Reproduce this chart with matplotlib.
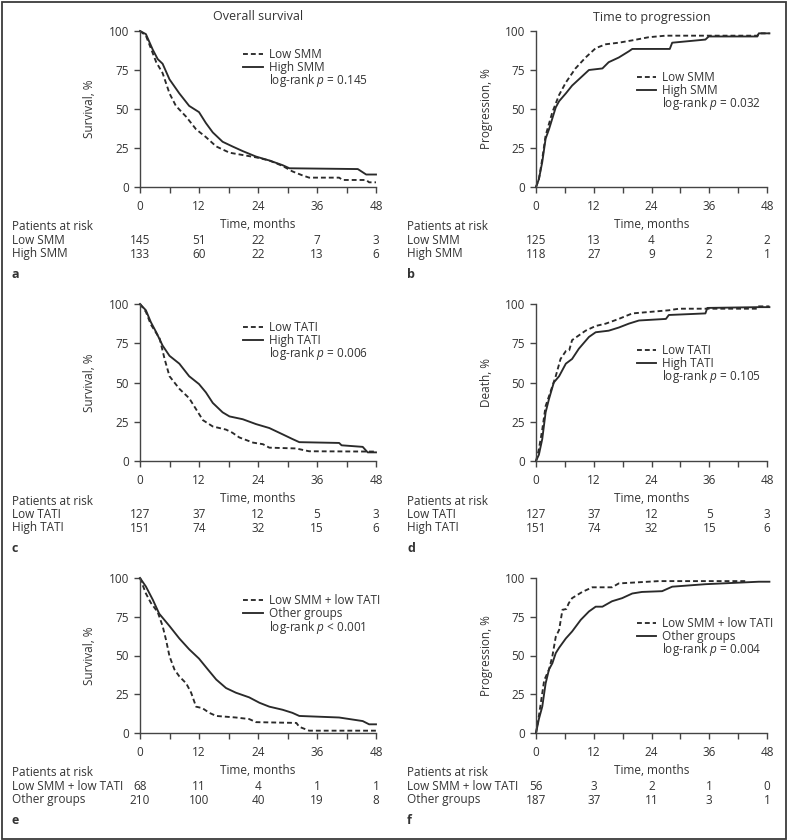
import numpy as np
import matplotlib
matplotlib.use("Agg")
import matplotlib.pyplot as plt
from matplotlib.patches import Rectangle

plt.rcParams['font.family'] = ['Open Sans', 'DejaVu Sans']
plt.rcParams['font.size'] = 8.5
plt.rcParams['mathtext.fontset'] = 'custom'
plt.rcParams['mathtext.it'] = 'Open Sans:italic'
plt.rcParams['mathtext.rm'] = 'Open Sans'

INK = '#333333'

# ---- curve data (months, %) ----
# a: overall survival by SMM
a_low_t = [0, 1.2, 2.2, 3.3, 4.6, 6.0, 7.3, 9.4, 11.4, 13.4, 15.5, 18.2, 20.0, 23.6, 26.3, 29.0, 31.0, 33.0, 34.4, 40.5, 41.2, 46.0, 46.6, 48.0]
a_low_s = [100, 97, 89, 80, 73, 60, 52, 45, 37, 32, 26, 22, 21, 19, 17, 13.5, 10, 7.5, 6, 6, 4.5, 4.5, 3, 3]
a_high_t = [0, 1.2, 2.6, 3.6, 4.6, 6.0, 8.0, 10.0, 12.0, 13.4, 14.8, 16.8, 18.8, 20.9, 23.6, 26.3, 29.0, 30.4, 44.3, 46.0, 48.0]
a_high_s = [100, 98, 88, 82, 79, 69, 60, 52, 48, 41, 35, 29, 26, 23, 19.5, 17, 14, 12, 11.5, 8, 8]

# b: time to progression by SMM
b_low_t = [0, 0.6, 1.3, 2.0, 3.4, 4.8, 6.2, 8.2, 10.3, 12.4, 14.5, 17.2, 20.0, 23.4, 26.9, 46.0, 46.3, 48.5]
b_low_s = [0, 5, 18, 33, 48, 59, 67, 76, 83, 89, 91.5, 92.5, 94, 96, 97, 97, 98.5, 98.5]
b_high_t = [0, 0.6, 1.3, 2.0, 2.7, 3.4, 4.1, 4.8, 6.2, 7.5, 9.6, 11.0, 13.8, 15.1, 17.2, 19.3, 20.0, 27.8, 28.3, 35.2, 35.9, 46.0, 46.3, 48.5]
b_high_s = [0, 5, 16, 31, 37, 44, 51, 55, 60, 65, 71, 75, 76, 80, 83, 87, 88.5, 88.5, 92.5, 94.5, 96.5, 96.5, 98.5, 98.5]

# c: overall survival by TATI
c_low_t = [0, 1.2, 2.2, 4.0, 5.0, 6.0, 8.0, 10.0, 11.4, 12.8, 14.8, 17.5, 18.8, 20.2, 23.0, 25.0, 26.3, 31.7, 34.4, 48.0]
c_low_s = [100, 95, 87, 78, 65, 54, 46, 40, 33, 26, 22, 20, 18, 15, 11.7, 10.7, 8.5, 8, 6.2, 6]
c_high_t = [0, 1.2, 2.2, 3.3, 4.6, 6.0, 8.0, 10.0, 12.0, 13.4, 14.8, 16.8, 18.2, 20.9, 23.6, 26.3, 29.0, 31.0, 32.4, 40.5, 41.0, 45.3, 46.3, 48.0]
c_high_s = [100, 96, 88.5, 82, 73.5, 67, 62, 54, 49, 43.7, 37, 31, 28.4, 26.6, 23.5, 21, 17, 14, 12, 11.5, 10, 9, 5.5, 5.5]

# d: death by TATI
d_low_t = [0, 0.6, 1.3, 2.0, 3.0, 4.1, 5.1, 6.2, 6.9, 7.5, 8.9, 10.3, 12.4, 14.5, 17.2, 20.0, 27.6, 29.7, 46.0, 46.3, 48.5]
d_low_s = [0, 7.5, 20, 35, 44, 54, 65, 70, 70.5, 77, 80, 83, 86, 87.5, 90.5, 94, 96, 97, 97, 98.5, 98.5]
d_high_t = [0, 0.6, 1.3, 2.0, 2.7, 3.7, 4.8, 6.2, 7.5, 8.9, 11.0, 12.4, 15.1, 17.2, 19.3, 21.4, 27.0, 27.6, 35.2, 35.6, 46.3, 48.5]
d_high_s = [0, 4, 14, 31, 39.5, 50, 54, 62, 65, 71.5, 79, 82, 83, 85, 87.5, 89.5, 90.5, 93, 94, 97.5, 98, 98]

# e: overall survival, combined groups
e_low_t = [0, 1.2, 2.2, 3.6, 4.6, 5.3, 6.0, 7.0, 8.0, 9.4, 10.4, 11.4, 12.7, 14.1, 15.5, 19.5, 22.2, 23.6, 31.8, 32.4, 34.4, 48.0]
e_low_s = [100, 90, 84, 78, 69, 60, 49.5, 41, 36.5, 32, 26, 17, 16, 13, 11, 10, 9, 7, 6.5, 4, 1.5, 1.5]
e_high_t = [0, 1.2, 2.6, 3.9, 6.0, 8.0, 10.0, 12.0, 13.8, 15.5, 17.5, 19.5, 22.2, 24.3, 26.3, 29.0, 31.0, 32.4, 40.5, 45.3, 46.6, 48.0]
e_high_s = [100, 94.5, 86, 77, 69, 61, 54, 48, 41, 34.5, 29, 26, 23, 19.5, 17, 15, 13, 11, 10, 7.7, 5.6, 5.6]

# f: progression, combined groups
f_low_t = [0, 0.6, 1.7, 2.7, 3.4, 4.1, 4.8, 5.5, 6.3, 6.8, 7.5, 9.6, 11.7, 15.8, 17.2, 25.5, 43.8]
f_low_s = [0, 11, 34, 41, 49.5, 62, 66.5, 79.5, 80, 83.7, 87, 91, 94, 94, 96.5, 98, 98]
f_high_t = [0, 0.6, 1.3, 2.0, 2.7, 3.4, 4.1, 4.8, 6.2, 7.5, 9.3, 11.0, 12.4, 13.8, 15.8, 17.9, 20.0, 22.0, 26.2, 28.3, 35.2, 46.3, 48.5]
f_high_s = [0, 9, 17, 32, 41, 45, 51.5, 55, 61, 65.5, 73, 78.4, 81.5, 81.5, 85, 87, 90, 91, 91.5, 94.4, 96, 97.6, 97.6]

# ---- patients at risk ----
risk_t = [0, 12, 24, 36, 48]
a_risk_low = [145, 51, 22, 7, 3]
a_risk_high = [133, 60, 22, 13, 6]
b_risk_low = [125, 13, 4, 2, 2]
b_risk_high = [118, 27, 9, 2, 1]
c_risk_low = [127, 37, 12, 5, 3]
c_risk_high = [151, 74, 32, 15, 6]
d_risk_low = [127, 37, 12, 5, 3]
d_risk_high = [151, 74, 32, 15, 6]
e_risk_low = [68, 11, 4, 1, 1]
e_risk_high = [210, 100, 40, 19, 8]
f_risk_low = [56, 3, 2, 1, 0]
f_risk_high = [187, 37, 11, 3, 1]

fig = plt.figure(figsize=(7.88, 8.4), dpi=100)

W, H = 788.0, 840.0


def make_axes(x0, x1, ytop, ybot):
    return fig.add_axes([x0 / W, 1 - ybot / H, (x1 - x0) / W, (ybot - ytop) / H])


def panel(ax, lt, ls, ht, hs, names, pval, ylabel, leg_y, r_low, r_high, letter, lab_x):
    ax.plot(lt, ls, color='#2a2a2a', lw=1.35,
            linestyle=(0, (2.6, 1.6)), clip_on=False)
    ax.plot(ht, hs, color='#2a2a2a', lw=1.35, clip_on=False)
    ax.set_xlim(0, 48)
    ax.set_ylim(0, 100)
    for s in ['top', 'right']:
        ax.spines[s].set_visible(False)
    for s in ['left', 'bottom']:
        ax.spines[s].set_color('#444444')
        ax.spines[s].set_linewidth(1.0)
    ax.set_xticks(np.arange(0, 49, 6))
    ax.set_xticklabels([str(v) if v % 12 == 0 else '' for v in range(0, 49, 6)])
    ax.set_yticks([0, 25, 50, 75, 100])
    ax.tick_params(axis='x', length=4, width=1.0, pad=5, colors='#444444', labelcolor=INK)
    ax.tick_params(axis='y', length=4, width=1.0, pad=4, colors='#444444', labelcolor=INK)
    ax.set_ylabel(ylabel, color=INK)
    ax.yaxis.set_label_coords(-0.185, 0.5)
    ax.set_xlabel('Time, months', color=INK, va='top')
    ax.xaxis.set_label_coords(0.5, -0.2)

    # key: dashed / solid samples, then the log-rank line underneath
    pos = ax.get_position()
    row = 13.2 / (pos.height * H)
    base = 4.0 / (pos.height * H)
    ax.plot([0.436, 0.52], [leg_y, leg_y], transform=ax.transAxes, color='#2a2a2a',
            lw=1.35, linestyle=(0, (2.6, 1.6)), clip_on=False)
    ax.plot([0.436, 0.52], [leg_y - row, leg_y - row], transform=ax.transAxes,
            color='#2a2a2a', lw=1.35, clip_on=False)
    lines = [names[0], names[1], 'log-rank $p$ ' + pval]
    for i, s in enumerate(lines):
        ax.text(0.545, leg_y - i * row - base, s, transform=ax.transAxes,
                ha='left', va='baseline', color=INK)

    # patients at risk table
    tr = ax.get_xaxis_transform()
    y_head = pos.y0 - 40 / H
    y_low = pos.y0 - 53 / H
    y_high = pos.y0 - 67 / H
    y_let = pos.y0 - 87 / H
    fig.text(lab_x / W, y_head, 'Patients at risk', va='center', ha='left', color=INK)
    fig.text(lab_x / W, y_low, names[0], va='center', ha='left', color=INK)
    fig.text(lab_x / W, y_high, names[1], va='center', ha='left', color=INK)
    fig.text(lab_x / W, y_let, letter, va='center', ha='left', color=INK,
             fontweight='bold', fontsize=9)
    for t, nl, nh in zip(risk_t, r_low, r_high):
        ax.text(t, (y_low - pos.y0) / pos.height, str(nl), transform=tr,
                ha='center', va='center', color=INK)
        ax.text(t, (y_high - pos.y0) / pos.height, str(nh), transform=tr,
                ha='center', va='center', color=INK)


rows = [(31, 187), (304, 461), (578, 733)]
cols = [(140, 376, 12), (536, 767, 407)]

ax_a = make_axes(cols[0][0], cols[0][1], *rows[0])
ax_b = make_axes(cols[1][0], cols[1][1], *rows[0])
ax_c = make_axes(cols[0][0], cols[0][1], *rows[1])
ax_d = make_axes(cols[1][0], cols[1][1], *rows[1])
ax_e = make_axes(cols[0][0], cols[0][1], *rows[2])
ax_f = make_axes(cols[1][0], cols[1][1], *rows[2])

panel(ax_a, a_low_t, a_low_s, a_high_t, a_high_s, ['Low SMM', 'High SMM'], '= 0.145',
      'Survival, %', 0.853, a_risk_low, a_risk_high, 'a', cols[0][2])
panel(ax_b, b_low_t, b_low_s, b_high_t, b_high_s, ['Low SMM', 'High SMM'], '= 0.032',
      'Progression, %', 0.707, b_risk_low, b_risk_high, 'b', cols[1][2])
panel(ax_c, c_low_t, c_low_s, c_high_t, c_high_s, ['Low TATI', 'High TATI'], '= 0.006',
      'Survival, %', 0.853, c_risk_low, c_risk_high, 'c', cols[0][2])
panel(ax_d, d_low_t, d_low_s, d_high_t, d_high_s, ['Low TATI', 'High TATI'], '= 0.105',
      'Death, %', 0.708, d_risk_low, d_risk_high, 'd', cols[1][2])
panel(ax_e, e_low_t, e_low_s, e_high_t, e_high_s, ['Low SMM + low TATI', 'Other groups'], '< 0.001',
      'Survival, %', 0.857, e_risk_low, e_risk_high, 'e', cols[0][2])
panel(ax_f, f_low_t, f_low_s, f_high_t, f_high_s, ['Low SMM + low TATI', 'Other groups'], '= 0.004',
      'Progression, %', 0.711, f_risk_low, f_risk_high, 'f', cols[1][2])

fig.text(258 / W, 1 - 17 / H, 'Overall survival', ha='center', va='center', color=INK, fontsize=9)
fig.text(652 / W, 1 - 17 / H, 'Time to progression', ha='center', va='center', color=INK, fontsize=9)

fig.patches.append(Rectangle((1.5 / W, 1.5 / H), 1 - 3.5 / W, 1 - 3.5 / H,
                             transform=fig.transFigure, fill=False,
                             edgecolor='#3a3a3a', linewidth=1.3))

fig.savefig('out.png', dpi=100)
